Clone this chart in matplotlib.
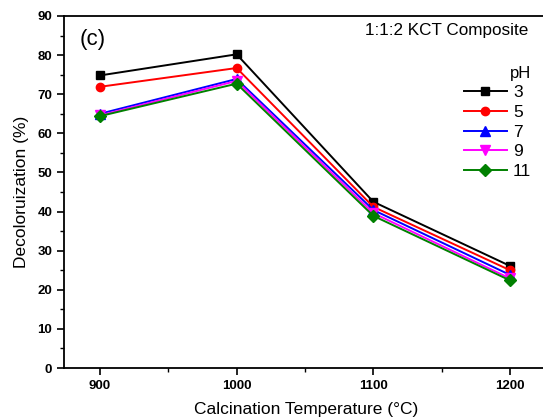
import matplotlib
matplotlib.use("Agg")
import matplotlib.pyplot as plt

plt.rcParams['font.family'] = ['Liberation Sans', 'DejaVu Sans']

temps = [900, 1000, 1100, 1200]
ph_labels = ['3', '5', '7', '9', '11']
ph3 = [74.8, 80.2, 42.5, 26.1]
ph5 = [71.9, 76.7, 41.2, 25.0]
ph7 = [65.0, 73.9, 40.4, 23.8]
ph9 = [64.6, 73.4, 39.6, 22.9]
ph11 = [64.4, 72.7, 38.9, 22.4]

series = [ph3, ph5, ph7, ph9, ph11]
colors = ['black', 'red', 'blue', 'magenta', 'green']
markers = ['s', 'o', '^', 'v', 'D']
msizes = [6, 6, 7, 7, 6]

fig = plt.figure(figsize=(5.43, 4.19), dpi=100)
ax = fig.add_axes([64 / 543, 51 / 419, 484 / 543, 352 / 419])

for vals, c, m, ms, lab in zip(series, colors, markers, msizes, ph_labels):
    ax.plot(temps, vals, color=c, marker=m, markersize=ms, linewidth=1.4, label=lab)

ax.set_xlim(873.7, 1227.8)
ax.set_ylim(0, 90)
ax.set_xticks(temps)
ax.set_xticks([950, 1050, 1150], minor=True)
ax.set_yticks(range(0, 91, 10))
ax.set_yticks(range(5, 90, 10), minor=True)
ax.tick_params(which='major', direction='out', length=5, width=1.2, labelsize=9.5)
ax.tick_params(which='minor', direction='out', length=3, width=1.0)
for lbl in ax.get_xticklabels() + ax.get_yticklabels():
    lbl.set_fontweight('bold')
ax.spines['right'].set_visible(False)
for s in ['left', 'bottom', 'top']:
    ax.spines[s].set_linewidth(1.3)

ax.set_xlabel('Calcination Temperature (°C)', fontsize=12.5, labelpad=7)
ax.set_ylabel('Decoloruization (%)', fontsize=12.5, labelpad=6)

fig.text(80 / 543, 1 - 39 / 419, '(c)', fontsize=16, ha='left', va='center')
fig.text(528 / 543, 1 - 31 / 419, '1:1:2 KCT Composite', fontsize=12.3, ha='right', va='center')

leg = ax.legend(title='pH', frameon=False, loc='upper right',
                bbox_to_anchor=(476 / 484, 1 - 41 / 352), fontsize=12.5,
                title_fontsize=12, alignment='right', handlelength=2.5,
                handletextpad=0.35, labelspacing=0.26, borderpad=0)

fig.savefig('out.png', dpi=100)
